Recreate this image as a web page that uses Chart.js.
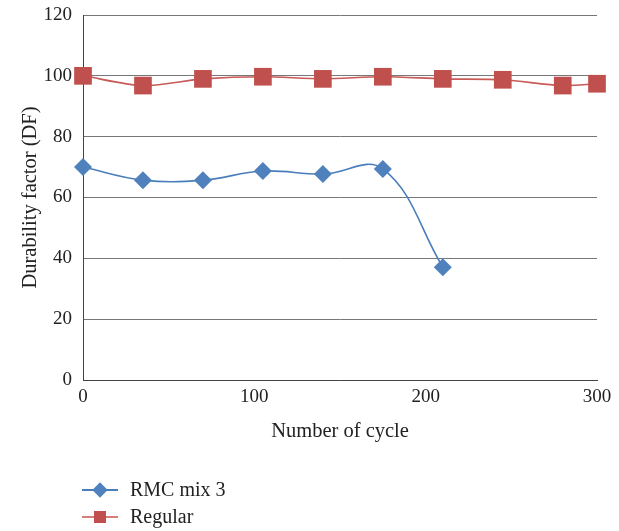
<!DOCTYPE html>
<html>
<head>
<meta charset="utf-8">
<script src="https://cdn.jsdelivr.net/npm/chart.js@4"></script>
<style>
  body { margin: 0; background: #fff; }
  #wrap { position: relative; width: 619px; height: 531px; }
  #legend { position: absolute; left: 82px; top: 476px; font-family: "Liberation Serif", serif; font-size: 20px; color: #222; }
  .item { display: flex; align-items: center; height: 27px; }
  .sym { position: relative; width: 36px; height: 20px; margin-right: 12px; }
  .sym .ln { position: absolute; left: 0; right: 0; top: 9px; height: 2px; }
  .sym .mk { position: absolute; left: 12px; top: 4px; width: 12px; height: 12px; }
</style>
</head>
<body>
<div id="wrap">
  <canvas id="c" width="619" height="531"></canvas>
  <div id="legend">
    <div class="item"><span class="sym"><span class="ln" style="background:#4a7ebb"></span><span class="mk" style="background:#4f81bd;transform:rotate(45deg) scale(0.9)"></span></span>RMC mix 3</div>
    <div class="item"><span class="sym"><span class="ln" style="background:#d47e7c"></span><span class="mk" style="background:#c0504d"></span></span>Regular</div>
  </div>
</div>
<script>
const rmcCycles = [0, 35, 70, 105, 140, 175, 210];
const rmcValues = [70, 65.7, 65.7, 68.7, 67.7, 69.4, 37.1];
const regCycles = [0, 35, 70, 105, 140, 175, 210, 245, 280, 300];
const regValues = [100, 96.8, 99, 99.7, 99, 99.7, 99, 98.7, 96.8, 97.4];

const toPts = (xs, ys) => xs.map((x, i) => ({ x: x, y: ys[i] }));
const tickFont = { family: '"Liberation Serif", serif', size: 19 };
const titleFont = { family: '"Liberation Serif", serif', size: 20.5 };

new Chart(document.getElementById('c'), {
  type: 'line',
  data: {
    datasets: [
      {
        label: 'RMC mix 3',
        data: toPts(rmcCycles, rmcValues),
        borderColor: '#4a7ebb',
        backgroundColor: '#4f81bd',
        borderWidth: 1.6,
        pointStyle: 'rectRot',
        pointRadius: 9,
        pointBorderWidth: 0,
        tension: 0.4,
        clip: false
      },
      {
        label: 'Regular',
        data: toPts(regCycles, regValues),
        borderColor: '#c85a57',
        backgroundColor: '#c0504d',
        borderWidth: 1.6,
        pointStyle: 'rect',
        pointRadius: 12.5,
        pointBorderWidth: 0,
        tension: 0.3,
        clip: false
      }
    ]
  },
  options: {
    responsive: false,
    animation: false,
    layout: { padding: { left: 14, top: 15, right: 22, bottom: 85 } },
    plugins: { legend: { display: false }, tooltip: { enabled: false } },
    scales: {
      x: {
        type: 'linear',
        min: 0, max: 300,
        ticks: { stepSize: 100, font: tickFont, color: '#222', padding: 6 },
        grid: { display: false, drawTicks: false },
        border: { display: true, color: '#444', width: 1 },
        title: { display: true, text: 'Number of cycle', font: titleFont, color: '#222', padding: { top: 4, bottom: 2 } },
        afterFit: s => { s.height = 66; s.paddingLeft = 0; s.paddingRight = 0; }
      },
      y: {
        min: 0, max: 120,
        ticks: { stepSize: 20, font: tickFont, color: '#222', padding: 11 },
        grid: { color: '#777', lineWidth: 1, drawTicks: false },
        border: { display: true, color: '#444', width: 1 },
        title: { display: true, text: 'Durability factor (DF)', font: titleFont, color: '#222', padding: { bottom: 4 } },
        afterFit: s => { s.width = 69; s.paddingTop = 0; s.paddingBottom = 0; }
      }
    }
  }
});
</script>
</body>
</html>
